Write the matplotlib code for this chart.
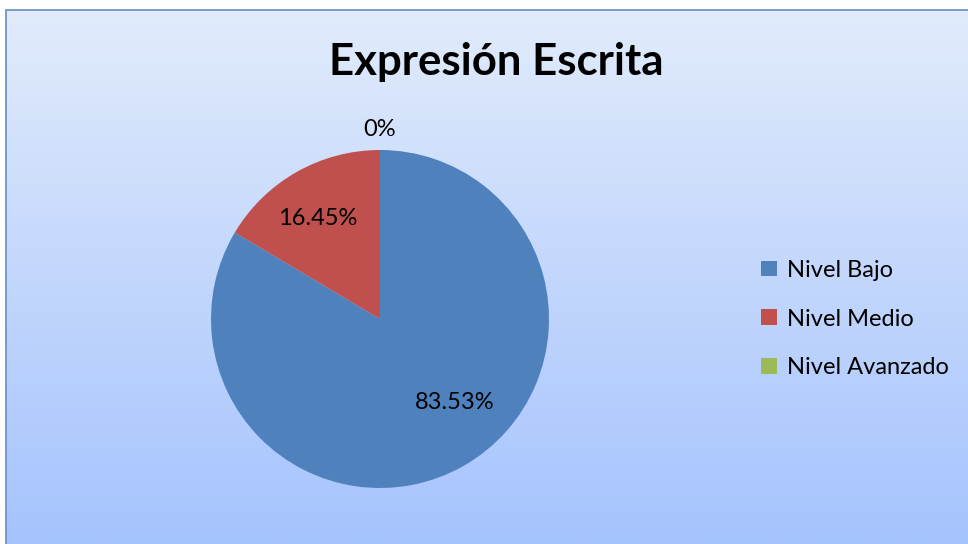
import numpy as np
import matplotlib.pyplot as plt
from matplotlib.colors import LinearSegmentedColormap
from matplotlib.patches import Rectangle

labels = ['Nivel Bajo', 'Nivel Medio', 'Nivel Avanzado']
values = [83.53, 16.45, 0]
pct_text = ['83.53%', '16.45%', '0%']
colors = ['#4F81BD', '#C0504D', '#9BBB59']

plt.rcParams['font.family'] = ['Lato', 'DejaVu Sans']

W, H = 968, 544
fig = plt.figure(figsize=(W / 100, H / 100), dpi=100)

# background gradient panel
bg = fig.add_axes([0, 0, 1, 1])
cmap = LinearSegmentedColormap.from_list('bg', ['#E1EBFB', '#A5C3FE'])
grad = np.linspace(0, 1, 256).reshape(-1, 1)
x0 = 6 / W
bg.imshow(grad, aspect='auto', cmap=cmap, extent=[x0, 1.01, 0, 1 - 10 / H], origin='upper')
bg.add_patch(Rectangle((x0, -0.01), 1.1, 1.01 - 10 / H, fill=False,
                       edgecolor='#6F94C8', linewidth=1.3))
bg.set_xlim(0, 1)
bg.set_ylim(0, 1)
bg.axis('off')

fig.text(496 / W, 1 - 62 / H, 'Expresión Escrita', ha='center', va='center',
         fontsize=31.5, fontweight='bold', color='black')

# pie
cx, cy, r = 380, 319, 169
ax = fig.add_axes([(cx - r) / W, (H - cy - r) / H, 2 * r / W, 2 * r / H])
wedges, _ = ax.pie(values, colors=colors, startangle=90, counterclock=False,
                   radius=1, wedgeprops=dict(linewidth=0))
ax.set_xlim(-1, 1)
ax.set_ylim(-1, 1)
ax.set_aspect('equal')
ax.axis('off')

text_pos = [(0.444, -0.497), (-0.367, 0.592), (0.0, 1.12)]
for (tx, ty), t in zip(text_pos, pct_text):
    ax.text(tx, ty, t, ha='center', va='center', fontsize=17, color='black', clip_on=False)

fig.legend(wedges, labels, loc='center left', bbox_to_anchor=(740 / W, 1 - 319 / H),
           frameon=False, fontsize=17, handlelength=0.65, handleheight=0.65,
           handletextpad=0.45, labelspacing=1.17)

fig.savefig('out.png', dpi=100)
